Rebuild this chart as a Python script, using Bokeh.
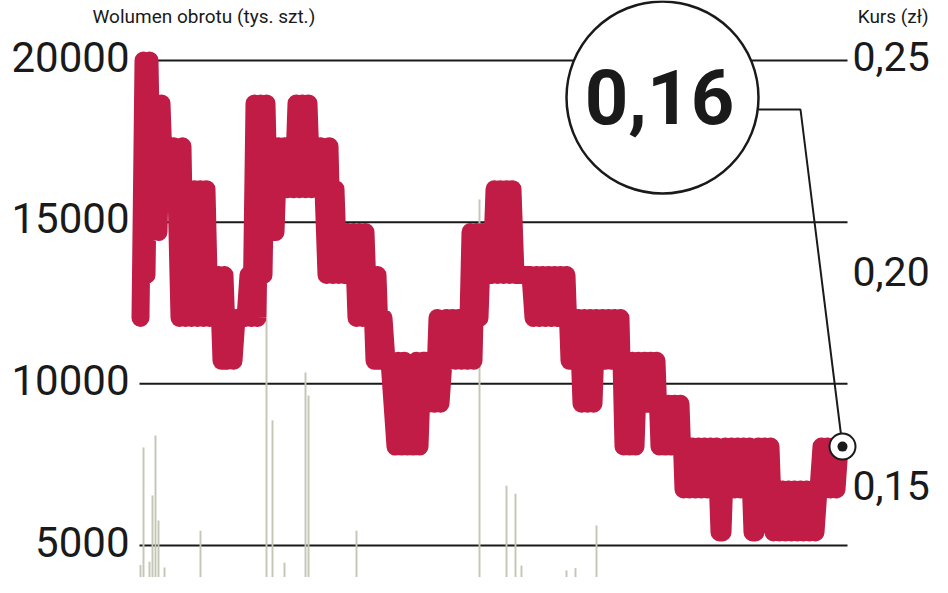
from bokeh.plotting import figure
from bokeh.models import Range1d
from bokeh.core.properties import value
from bokeh.embed import file_html
from bokeh.resources import INLINE

# ---------------- data ----------------
# daily share price (zł)
price = [
    0.19, 0.25, 0.20, 0.25, 0.21, 0.24, 0.21, 0.24,
    0.22, 0.23, 0.22, 0.23, 0.22,
    0.19, 0.23, 0.19, 0.22, 0.19, 0.22, 0.19,
    0.22, 0.19, 0.22, 0.19,
    0.20, 0.19, 0.20, 0.18, 0.20, 0.18, 0.19, 0.18,
    0.19, 0.19, 0.19, 0.19, 0.20, 0.19,
    0.24, 0.19, 0.24, 0.20, 0.24,
    0.21, 0.23, 0.21, 0.23,
    0.22, 0.23, 0.22, 0.23, 0.22,
    0.24, 0.22, 0.24, 0.22, 0.24,
    0.22, 0.23, 0.22, 0.23, 0.22,
    0.20, 0.23, 0.20, 0.22, 0.20,
    0.21, 0.20, 0.21, 0.20, 0.21,
    0.19, 0.21, 0.19, 0.21, 0.19,
    0.20, 0.18, 0.20, 0.18, 0.19, 0.18,
    0.18, 0.17, 0.16, 0.18, 0.16, 0.18, 0.16, 0.17, 0.16, 0.18, 0.16,
    0.18, 0.18,
    0.17, 0.18, 0.17, 0.19, 0.17, 0.18,
    0.19, 0.18, 0.19, 0.18, 0.19, 0.18, 0.19, 0.18,
    0.21, 0.18, 0.21, 0.19,
    0.21, 0.20, 0.21, 0.20,
    0.22, 0.20, 0.22, 0.20, 0.22, 0.20, 0.22, 0.20,
    0.20, 0.20, 0.20, 0.20, 0.20,
    0.19, 0.20, 0.19, 0.20, 0.19, 0.20, 0.19, 0.20, 0.19, 0.20, 0.19, 0.20, 0.18,
    0.19, 0.18, 0.19, 0.17, 0.19, 0.17, 0.19, 0.17, 0.19, 0.18, 0.19, 0.18, 0.19,
    0.18, 0.19, 0.18, 0.19,
    0.16, 0.18, 0.16, 0.18, 0.16, 0.18,
    0.17, 0.18, 0.17, 0.18, 0.17, 0.18,
    0.16, 0.17, 0.16, 0.17, 0.16, 0.17, 0.16, 0.17,
    0.15, 0.16, 0.15, 0.16, 0.15, 0.16,
    0.15, 0.16, 0.15, 0.16, 0.15, 0.16, 0.14, 0.14, 0.16, 0.15, 0.16, 0.15,
    0.16, 0.15, 0.16, 0.15, 0.16, 0.14, 0.14, 0.16, 0.15, 0.16, 0.15, 0.16,
    0.14, 0.15, 0.14, 0.15, 0.14, 0.15, 0.14, 0.15,
    0.14, 0.15, 0.14, 0.15, 0.14, 0.15, 0.14, 0.15,
    0.16, 0.15, 0.16, 0.15, 0.16, 0.15, 0.16, 0.16,
]
day = list(range(len(price)))

# trading volume (thousand shares) on selected days
vol_day = [0, 1, 3, 4, 5, 6, 8, 20, 42, 44, 48, 55, 56, 65, 72, 86,
           113, 122, 125, 127, 142, 145, 152]
vol_value = [4400, 8030, 4500, 6550, 8400, 5770, 4320, 5460, 12000, 8870, 4470,
             10350, 9640, 3950, 5460, 3800, 15700, 6850, 6600, 4380, 4230, 4300, 5620]

vol_ticks = [5000, 10000, 15000, 20000]
vol_tick_labels = ["5000", "10000", "15000", "20000"]
price_ticks = [0.15, 0.20, 0.25]
price_tick_labels = ["0,15", "0,20", "0,25"]
callout_label = "0,16"
title_volume = "Wolumen obrotu (tys. szt.)"
title_price = "Kurs (zł)"

# ---------------- layout ----------------
W, H = 932, 577
FONT = "Roboto"
RED = "#c01c45"
INK = "#1a1a1a"
BAR = "#c4c6b6"

n = len(price)
X0, X1 = 140, 842
px_per_day = (X1 - X0) / (n - 1)
x_start = -X0 / px_per_day
x_end = x_start + W / px_per_day
vpp = 15000 / 485
v_top = 20000 + 60 * vpp
v_bot = v_top - H * vpp
ppp = 1 / 4290
p_top = 0.25 + 60 * ppp
p_bot = p_top - H * ppp


def xd(px):
    return x_start + px / px_per_day


def yv(py):
    return v_top - py * vpp


def yp(py):
    return p_top - py * ppp


p = figure(width=W, height=H, x_range=Range1d(x_start, x_end),
           y_range=Range1d(v_bot, v_top), output_backend="svg",
           toolbar_location=None, min_border=0, x_axis_location=None,
           y_axis_location=None, outline_line_color=None,
           background_fill_color="white", border_fill_color="white")
p.grid.visible = False
p.extra_y_ranges = {"price": Range1d(p_bot, p_top)}

# grid lines
p.segment(x0=[xd(139)] * len(vol_ticks), x1=[xd(847)] * len(vol_ticks),
          y0=vol_ticks, y1=vol_ticks, line_color=INK, line_width=2)

# volume bars
p.vbar(x=vol_day, top=vol_value, bottom=0, width=0.65, fill_color=BAR,
       line_color=None)

# price line
p.line(day, price, y_range_name="price", line_width=18, line_color=RED,
       line_join="round", line_cap="round")

# tick labels
p.text(x=[xd(129)] * len(vol_ticks), y=vol_ticks, text=vol_tick_labels,
       text_align="right", text_baseline="middle", y_offset=-4,
       text_font=value(FONT), text_font_size="42px", text_color=INK)
p.text(x=[xd(852)] * len(price_ticks), y=price_ticks, y_range_name="price",
       text=price_tick_labels, text_align="left", text_baseline="middle",
       y_offset=-4, text_font=value(FONT), text_font_size="41px",
       text_color=INK)

# header
p.text(x=[xd(92)], y=[yv(16)], text=[title_volume], text_align="left",
       text_baseline="alphabetic", text_font=value(FONT),
       text_font_size="19px", text_color=INK)
p.text(x=[xd(928)], y=[yv(16)], text=[title_price], text_align="right",
       text_baseline="alphabetic", text_font=value(FONT),
       text_font_size="19px", text_color=INK)

# callout
p.line(x=[xd(758), xd(800), n - 1], y=[yp(109), yp(109), price[-1]],
       y_range_name="price", line_color=INK, line_width=2)
p.scatter(x=[xd(662)], y=[yv(97)], marker="circle", size=192,
          fill_color="white", line_color=INK, line_width=2.5)
p.text(x=[xd(659)], y=[yv(96)], text=[callout_label], text_align="center",
       text_baseline="middle", text_font=value(FONT), text_font_style="bold",
       text_font_size="76px", text_color=INK)
p.scatter(x=[n - 1], y=[price[-1]], y_range_name="price", marker="circle",
          size=26, fill_color="white", line_color=INK, line_width=2)
p.scatter(x=[n - 1], y=[price[-1]], y_range_name="price", marker="circle",
          size=10, fill_color=INK, line_color=None)

open("out.html", "w").write(file_html(p, INLINE))
